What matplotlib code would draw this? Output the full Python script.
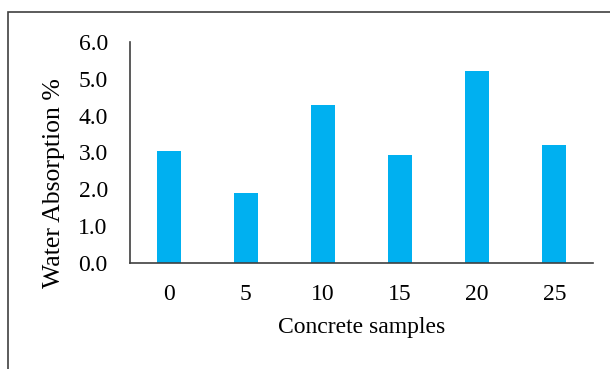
import matplotlib.pyplot as plt
from matplotlib.patches import Rectangle

# data
samples = ["0", "5", "10", "15", "20", "25"]
absorption = [3.05, 1.90, 4.29, 2.93, 5.22, 3.20]
y_ticks = [0.0, 1.0, 2.0, 3.0, 4.0, 5.0, 6.0]

plt.rcParams['font.family'] = ['Liberation Serif', 'DejaVu Serif']

fig = plt.figure(figsize=(6.10, 3.69), dpi=100)
ax = fig.add_axes([0.2131, 0.2873, 0.7590, 0.5990])

x = range(len(samples))
ax.bar(x, absorption, width=0.31, color='#00B0F0')

ax.set_xlim(-0.5, len(samples) - 0.5)
ax.set_ylim(0, 6)
ax.set_xticks(list(x))
ax.set_xticklabels(samples)
ax.set_yticks(y_ticks)
ax.set_yticklabels([f"{v:.1f}" for v in y_ticks])
ax.tick_params(length=0, labelsize=17)
ax.tick_params(axis='x', pad=15)
ax.tick_params(axis='y', pad=16)

for side in ['top', 'right']:
    ax.spines[side].set_visible(False)
for side in ['left', 'bottom']:
    ax.spines[side].set_color('#404040')
    ax.spines[side].set_linewidth(1.2)

ax.set_xlabel("Concrete samples", fontsize=17, labelpad=9)
# the y title sits a bit below the middle of the axis in the original
ax.set_ylabel("Water Absorption %", fontsize=18.5, labelpad=10, y=0.36)

# outer frame of the chart area (right and bottom edges cut off)
fig.patches.append(Rectangle((8 / 610, -0.1), 1.2, 1.1 - 12 / 369,
                             transform=fig.transFigure, fill=False,
                             edgecolor='#404040', linewidth=1.2, clip_on=False))

fig.savefig("out.png", dpi=100)
